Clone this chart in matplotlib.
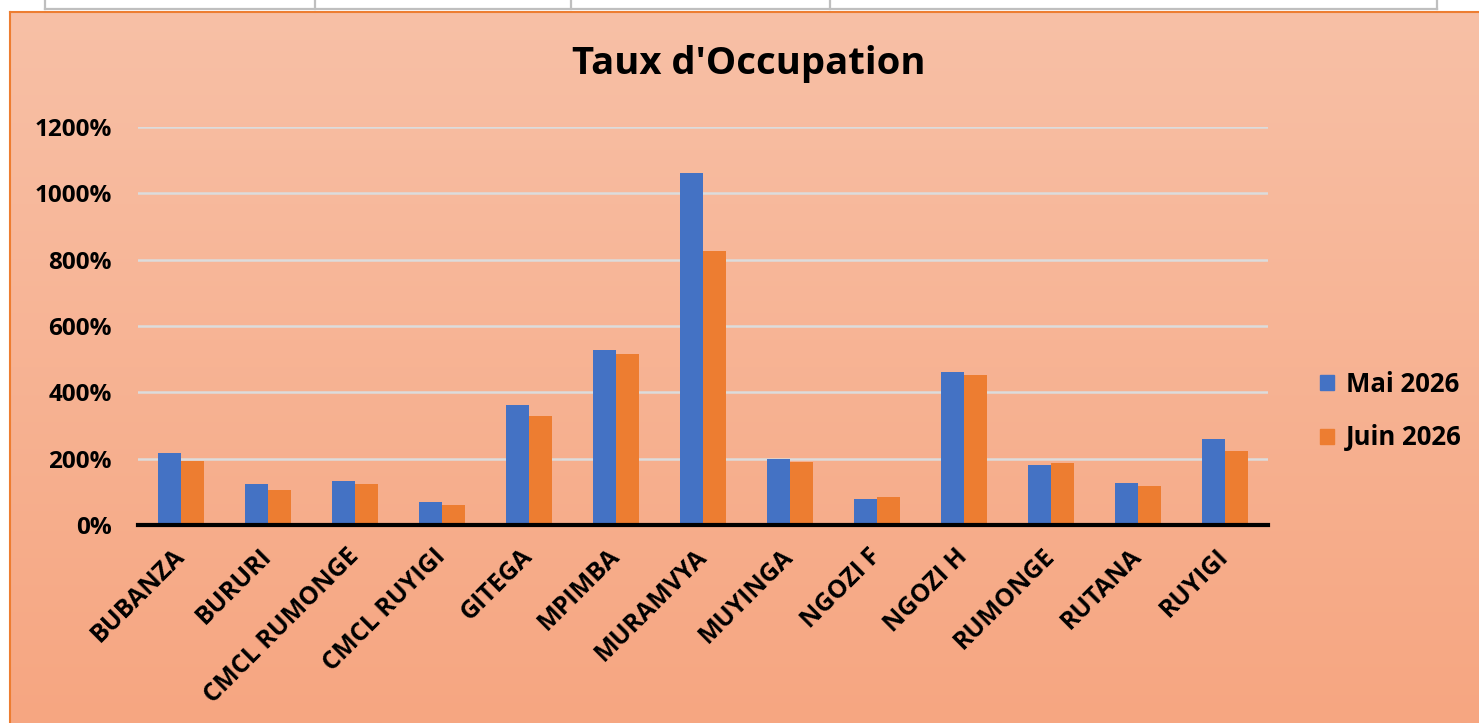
import matplotlib
matplotlib.use("Agg")
import matplotlib.pyplot as plt
import numpy as np
from matplotlib.patches import Patch
from matplotlib.lines import Line2D
from matplotlib.colors import LinearSegmentedColormap

categories = ["BUBANZA", "BURURI", "CMCL RUMONGE", "CMCL RUYIGI", "GITEGA", "MPIMBA",
              "MURAMVYA", "MUYINGA", "NGOZI F", "NGOZI H", "RUMONGE", "RUTANA", "RUYIGI"]
mai_2026 = [217, 124, 133, 69, 362, 528, 1061, 199, 78, 461, 181, 127, 259]
juin_2026 = [193, 105, 124, 60, 329, 516, 826, 190, 84, 452, 187, 118, 223]
series_names = ["Mai 2026", "Juin 2026"]
yticks = [0, 200, 400, 600, 800, 1000, 1200]
title = "Taux d'Occupation"

W, H = 1479, 723
fig = plt.figure(figsize=(W / 100, H / 100), dpi=100)
fig.patch.set_facecolor("white")
FONT = "Open Sans"

def fx(px):
    return px / W

def fy(py):
    return 1 - py / H

# Chart area background with gradient
bg = fig.add_axes([fx(10), 0, 1 - fx(10), fy(12)])
cmap = LinearSegmentedColormap.from_list("bg", ["#F8C0A6", "#F6A681"])
grad = np.linspace(0, 1, 256).reshape(-1, 1)
bg.imshow(grad, aspect="auto", cmap=cmap, extent=[0, 1, 0, 1], origin="upper")
bg.set_xlim(0, 1)
bg.set_ylim(0, 1)
bg.set_xticks([])
bg.set_yticks([])
for s in ["right", "bottom"]:
    bg.spines[s].set_visible(False)
for s in ["left", "top"]:
    bg.spines[s].set_color("#ED7D31")
    bg.spines[s].set_linewidth(1.5)

# Table fragment at top
tbl_color = "#BFBFBF"
fig.add_artist(Line2D([fx(45), fx(1437)], [fy(8.5), fy(8.5)], color=tbl_color, lw=1.6))
for xv in [45, 315, 571, 830, 1437]:
    fig.add_artist(Line2D([fx(xv), fx(xv)], [fy(0), fy(8.5)], color=tbl_color, lw=1.6))

# Main axes
ax = fig.add_axes([fx(138), fy(525), fx(1268) - fx(138), fy(127) - fy(525)])
ax.patch.set_alpha(0)
x = np.arange(len(categories))
bw = 0.265
ax.bar(x - bw / 2, mai_2026, bw, color="#4472C4", label=series_names[0], zorder=3)
ax.bar(x + bw / 2, juin_2026, bw, color="#ED7D31", label=series_names[1], zorder=3)
ax.set_xlim(-0.5, len(categories) - 0.5)
ax.set_ylim(0, 1200)
ax.set_yticks(yticks)
ax.set_yticklabels([f"{v}%" for v in yticks], fontsize=17.5, fontweight="bold", family=FONT)
ax.yaxis.grid(True, color="#DCDCDC", lw=1.8, zorder=0)
ax.set_axisbelow(True)
ax.tick_params(axis="y", length=0, pad=19)
ax.tick_params(axis="x", length=0, pad=20)
ax.set_xticks(x)
ax.set_xticklabels(categories, rotation=45, ha="right", va="center", rotation_mode="anchor",
                   fontsize=18, fontweight="bold", family=FONT)
for s in ["top", "right", "left"]:
    ax.spines[s].set_visible(False)
ax.spines["bottom"].set_color("black")
ax.spines["bottom"].set_linewidth(3)
ax.spines["bottom"].set_zorder(4)

fig.text(fx(749), fy(64), title, ha="center", va="center", fontsize=27.5,
         fontweight="bold", family=FONT)

handles = [Patch(color="#4472C4"), Patch(color="#ED7D31")]
fig.legend(handles, series_names, loc="center left", bbox_to_anchor=(fx(1297), fy(411)),
           frameon=False, prop={"family": FONT, "weight": "bold", "size": 18.5},
           handlelength=0.55, handleheight=0.55, handletextpad=0.45, labelspacing=1.05)

fig.savefig("out.png", dpi=100)
